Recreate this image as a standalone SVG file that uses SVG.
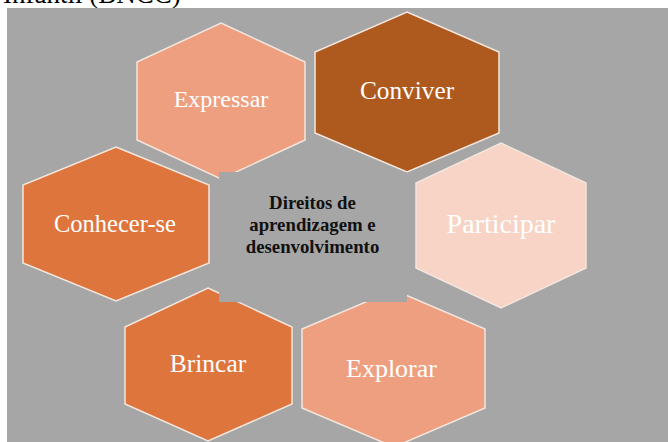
<svg xmlns="http://www.w3.org/2000/svg" width="668" height="442" viewBox="0 0 668 442">
  <style>
    .hex { stroke: #f3e6de; stroke-width: 1.5; stroke-linejoin: miter; }
    .lbl { font-family: "Liberation Serif", "DejaVu Serif", serif; fill: #ffffff; text-anchor: middle; }
    .core { font-family: "Liberation Serif", "DejaVu Serif", serif; font-weight: bold; fill: #111111; text-anchor: middle; font-size: 18.8px; }
    .c-light { fill: #ed9f7f; }
    .c-dark { fill: #ae5a1f; }
    .c-pale { fill: #f7d4c6; }
    .c-mid { fill: #de753c; }
  </style>

  <rect x="0" y="0" width="668" height="442" fill="#ffffff"/>
  <!-- caption line above the figure, partly cut off by the page edge -->
  <text x="3" y="3" font-family="Liberation Serif, DejaVu Serif, serif" font-size="27" fill="#000000">Infantil (BNCC)</text>
  <rect x="7" y="8" width="661" height="434" fill="#a6a6a6"/>

  <g id="expressar">
    <polygon class="hex c-light" points="221,23 305,62 305,140 221,179 137,140 137,62"/>
    <text class="lbl" x="221" y="107" font-size="24">Expressar</text>
  </g>

  <g id="conviver">
    <polygon class="hex c-dark" points="407,12 499,52 499,133 407,172 315,133 315,52"/>
    <text class="lbl" x="407" y="99" font-size="25.3">Conviver</text>
  </g>

  <g id="participar">
    <polygon class="hex c-pale" points="501,143 586,183 586,268 501,308 416,268 416,183"/>
    <text class="lbl" x="501" y="233" font-size="28">Participar</text>
  </g>

  <g id="explorar">
    <polygon class="hex c-light" points="394,290 485,329 485,408 394,447 302,408 302,329"/>
    <text class="lbl" x="391.5" y="377" font-size="26">Explorar</text>
  </g>

  <g id="brincar">
    <polygon class="hex c-mid" points="208,288 292,327 292,404 208,441 125,404 125,327"/>
    <text class="lbl" x="208" y="372" font-size="25.5">Brincar</text>
  </g>

  <g id="conhecer-se">
    <polygon class="hex c-mid" points="116,147 209,185 209,263 116,301 23,263 23,185"/>
    <text class="lbl" x="115" y="232" font-size="24.5">Conhecer-se</text>
  </g>

  <g id="direitos">
    <rect x="219" y="172" width="188" height="130" fill="#a6a6a6"/>
    <text class="core" x="312.5" y="209">Direitos de</text>
    <text class="core" x="312.5" y="231">aprendizagem e</text>
    <text class="core" x="312.5" y="253">desenvolvimento</text>
  </g>

  <g id="connectors"/>
</svg>
